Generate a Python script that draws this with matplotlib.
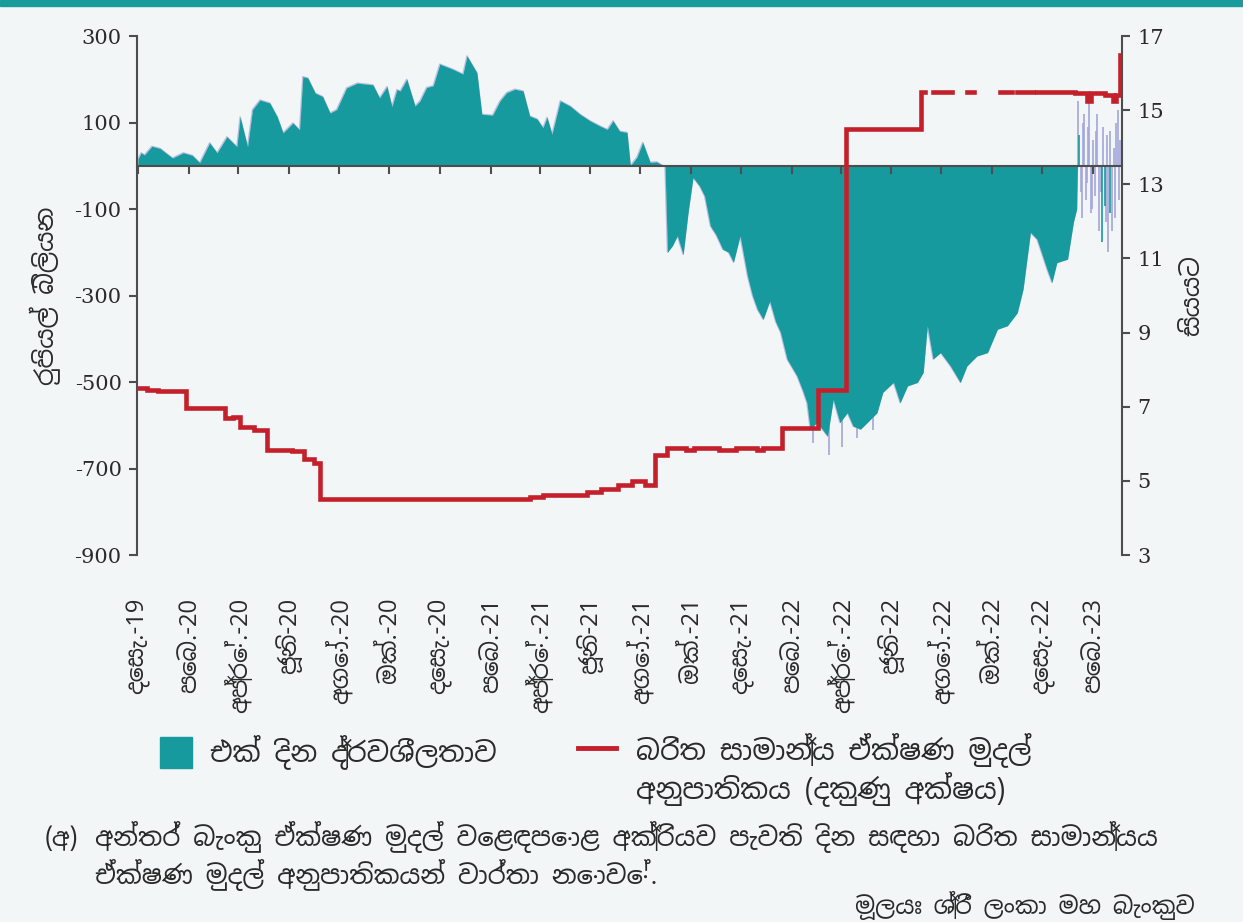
import numpy as np
import matplotlib
matplotlib.use('Agg')
import matplotlib.pyplot as plt
import matplotlib.dates as mdates
from matplotlib import font_manager
from matplotlib.ft2font import FT2Font
from matplotlib.patches import Rectangle
from matplotlib.lines import Line2D

# overnight liquidity, Rs. bn (left axis)
liq_dates = ['2019-12-01', '2019-12-05', '2019-12-09', '2019-12-18', '2019-12-28', '2020-01-05',
             '2020-01-12', '2020-01-25', '2020-02-05', '2020-02-14',
             '2020-02-26', '2020-03-06', '2020-03-18', '2020-03-30', '2020-04-03', '2020-04-12',
             '2020-04-18', '2020-04-27', '2020-05-09', '2020-05-18', '2020-05-25', '2020-06-06',
             '2020-06-14', '2020-06-18', '2020-06-24', '2020-07-03', '2020-07-12', '2020-07-21',
             '2020-07-29', '2020-08-10', '2020-08-23', '2020-09-11', '2020-09-19', '2020-09-28',
             '2020-10-04', '2020-10-10', '2020-10-14', '2020-10-22', '2020-11-01', '2020-11-07',
             '2020-11-15', '2020-11-23', '2020-12-01', '2020-12-17', '2020-12-29', '2021-01-03',
             '2021-01-15', '2021-01-21', '2021-02-03', '2021-02-12', '2021-02-20', '2021-03-02',
             '2021-03-12', '2021-03-20', '2021-03-29', '2021-04-05', '2021-04-10', '2021-04-16',
             '2021-04-26', '2021-05-08', '2021-05-20', '2021-06-01', '2021-06-13', '2021-06-22',
             '2021-06-29', '2021-07-07', '2021-07-16', '2021-07-20', '2021-07-28', '2021-08-04',
             '2021-08-13', '2021-08-21', '2021-08-29', '2021-08-31', '2021-09-03', '2021-09-09',
             '2021-09-15', '2021-09-22', '2021-09-28', '2021-10-04', '2021-10-12', '2021-10-18',
             '2021-10-25', '2021-11-01', '2021-11-09', '2021-11-16',
             '2021-11-22', '2021-11-30', '2021-12-09', '2021-12-15', '2021-12-21', '2021-12-28',
             '2022-01-05', '2022-01-12',
             '2022-01-18', '2022-01-26', '2022-02-07', '2022-02-14', '2022-02-19', '2022-02-23',
             '2022-03-03', '2022-03-10',
             '2022-03-16', '2022-03-23', '2022-03-31', '2022-04-09', '2022-04-16', '2022-04-25',
             '2022-05-03', '2022-05-15', '2022-05-22', '2022-06-04', '2022-06-12', '2022-06-21',
             '2022-07-03', '2022-07-10', '2022-07-15', '2022-07-22', '2022-07-31', '2022-08-12',
             '2022-08-24', '2022-09-01', '2022-09-13', '2022-09-26', '2022-10-08', '2022-10-20',
             '2022-11-01', '2022-11-08', '2022-11-17', '2022-11-25', '2022-12-07', '2022-12-13',
             '2022-12-19', '2023-01-01', '2023-01-08', '2023-01-12', '2023-01-13']
liq_vals = [15, 30, 25, 45, 40, 28,
            18, 30, 24, 7,
            53, 30, 67, 44, 113, 44,
            130, 152, 145, 113, 76, 99,
            83, 206, 203, 168, 160, 122,
            130, 180, 191, 187, 157, 183,
            137, 176, 173, 200, 138, 150,
            181, 185, 235, 223, 212, 254,
            215, 119, 117, 150, 169, 177,
            173, 115, 108, 88, 112, 73,
            150, 138, 119, 104, 92, 84,
            104, 80, 77, 0, 20, 54,
            8, 9, 0, 0, -200, -185,
            -162, -205, -108, -27, -47, -70,
            -139, -160, -193, -200,
            -223, -162, -255, -300, -332, -355,
            -313, -360,
            -385, -447, -486, -520, -548, -609,
            -594, -610,
            -625, -540, -594, -571, -602, -609,
            -594, -571, -524, -501, -548, -509,
            -501, -478, -370, -447, -432, -463,
            -501, -463, -440, -432, -378, -370,
            -340, -286, -154, -170, -239, -270,
            -224, -216, -131, -100, 0]

# thin day-to-day swings (deep one-day dips, and the January-March 2023 swings)
swing_dates = ['2022-02-27', '2022-03-18', '2022-04-03', '2022-04-21', '2022-05-10',
               '2023-01-14', '2023-01-15', '2023-01-17', '2023-01-18', '2023-01-20', '2023-01-21',
               '2023-01-23', '2023-01-25', '2023-01-26', '2023-01-27', '2023-01-29', '2023-01-31',
               '2023-02-01', '2023-02-03', '2023-02-04', '2023-02-06', '2023-02-08', '2023-02-10',
               '2023-02-12', '2023-02-13', '2023-02-15', '2023-02-16', '2023-02-18', '2023-02-19',
               '2023-02-21', '2023-02-22', '2023-02-24', '2023-02-26', '2023-02-27', '2023-03-01',
               '2023-03-03', '2023-03-04', '2023-03-06']
swing_vals = [-640, -668, -650, -630, -610,
              150, 70, -60, -120, 100, 120,
              -80, -40, 90, 150, -110, -100,
              60, -70, 80, 120, -150, -60,
              -177, 90, -93, -130, 70, -200,
              -110, 80, -150, 40, -120, 100,
              130, -80, 60]
swing_teal = [False, False, False, False, False,
              False, True, False, False, False, False,
              False, False, False, False, False, False,
              False, False, False, False, False, False,
              True, False, True, False, False, False,
              True, False, False, False, False, False,
              False, False, False]

# weighted average call money rate, % (right axis); nan = no trades
rate_dates = ['2019-12-01', '2019-12-12', '2019-12-25', '2020-01-29', '2020-03-16', '2020-03-25',
              '2020-04-03', '2020-04-20', '2020-05-06', '2020-06-05', '2020-06-20', '2020-07-01',
              '2020-07-09', '2021-03-20', '2021-04-05', '2021-05-28', '2021-06-15', '2021-07-05',
              '2021-07-22', '2021-08-07', '2021-08-19', '2021-09-02', '2021-09-25', '2021-10-05',
              '2021-11-05', '2021-11-25', '2021-12-20', '2021-12-28', '2022-01-20',
              '2022-03-04', '2022-04-08', '2022-07-07', '2022-07-12', '2022-07-22', '2022-08-14',
              '2022-09-01', '2022-09-09', '2022-10-11', '2022-10-26', '2022-11-01', '2022-11-20',
              '2022-11-25', '2023-01-10', '2023-01-25', '2023-01-30', '2023-02-15', '2023-02-25',
              '2023-03-01', '2023-03-06', '2023-03-08']
rate_vals = [7.50, 7.45, 7.42, 6.96, 6.70, 6.73,
             6.46, 6.37, 5.83, 5.80, 5.60, 5.48,
             4.50, 4.57, 4.62, 4.70, 4.78, 4.88,
             5.00, 4.90, 5.70, 5.88, 5.83, 5.88,
             5.83, 5.88, 5.84, 5.88, 6.42,
             7.45, 14.50, 15.50, np.nan, 15.50, np.nan,
             15.50, np.nan, 15.50, np.nan, 15.50, np.nan,
             15.48, 15.45, 15.25, 15.45, 15.40, 15.25,
             15.40, 16.50, 16.50]

tick_dates = ['2019-12-01', '2020-02-01', '2020-04-01', '2020-06-01', '2020-08-01', '2020-10-01',
              '2020-12-01', '2021-02-01', '2021-04-01', '2021-06-01', '2021-08-01', '2021-10-01',
              '2021-12-01', '2022-02-01', '2022-04-01', '2022-06-01', '2022-08-01', '2022-10-01',
              '2022-12-01', '2023-02-01']
tick_labels = ['දෙසැ.-19', 'පෙබ.-20', 'අප්‍රේ.-20', 'ජූනි-20', 'අගෝ.-20', 'ඔක්.-20',
               'දෙසැ.-20', 'පෙබ.-21', 'අප්‍රේ.-21', 'ජූනි-21', 'අගෝ.-21', 'ඔක්.-21',
               'දෙසැ.-21', 'පෙබ.-22', 'අප්‍රේ.-22', 'ජූනි-22', 'අගෝ.-22', 'ඔක්.-22',
               'දෙසැ.-22', 'පෙබ.-23']
left_ticks = [300, 100, -100, -300, -500, -700, -900]
right_ticks = [17, 15, 13, 11, 9, 7, 5, 3]


def find_sinhala_font():
    for f in font_manager.fontManager.ttflist:
        if 'sinhala' in f.name.lower():
            return f.name
    for f in font_manager.fontManager.ttflist:
        if 'CJK' in f.name:
            continue
        try:
            if 0x0D9A in FT2Font(f.fname).get_charmap():
                return f.name
        except Exception:
            pass
    return None


sin_font = find_sinhala_font()
fams = [sin_font, 'DejaVu Sans'] if sin_font else ['DejaVu Sans']
plt.rcParams['font.family'] = fams
num_font = 'DejaVu Serif'

teal = '#179a9d'
lav = '#a3a6d8'
red = '#c4202b'
axc = '#4d4d4d'
txt = '#2a2a2a'
bg = '#f3f6f6'

to_num = lambda ds: mdates.date2num(np.array(ds, dtype='datetime64[D]'))

fig = plt.figure(figsize=(12.43, 9.22), dpi=100, facecolor=bg)
fig.patches.append(Rectangle((0, 1 - 6 / 922), 1, 6 / 922, transform=fig.transFigure,
                             color='#1a9b9b', zorder=0))

ax = fig.add_axes([137 / 1243, 1 - 555 / 922, 985 / 1243, 519 / 922])
ax.set_facecolor(bg)

x_liq = to_num(liq_dates)
ax.plot(x_liq, liq_vals, color=lav, lw=1.0, alpha=0.7, zorder=1)
ax.fill_between(x_liq, liq_vals, 0, color=teal, lw=0, zorder=1.5)

x_sw = to_num(swing_dates)
for xv, yv, t in zip(x_sw, swing_vals, swing_teal):
    ax.vlines(xv, 0, yv, color=teal if t else lav, lw=1.4, alpha=0.85, zorder=1.2 if not t else 1.6)

ax.set_ylim(-900, 300)
ax.set_xlim(mdates.date2num(np.datetime64('2019-11-30')), mdates.date2num(np.datetime64('2023-03-08')))
ax.set_yticks(left_ticks)
ax.set_yticklabels([str(v) for v in left_ticks], fontfamily=num_font, fontsize=15, color=txt)

ax.spines['top'].set_visible(False)
ax.spines['right'].set_visible(False)
ax.spines['bottom'].set_position(('data', 0))
for s in ['left', 'bottom']:
    ax.spines[s].set_color(axc)
    ax.spines[s].set_linewidth(1.5)
ax.spines['bottom'].set_zorder(3)

ax.set_xticks(to_num(tick_dates))
ax.set_xticklabels(tick_labels, rotation=90, fontsize=17, color=txt)
ax.tick_params(axis='x', direction='out', length=6, width=1.5, color=axc, pad=305)
ax.tick_params(axis='y', direction='out', length=6, width=1.5, color=axc, pad=5)
ax.set_ylabel('රුපියල් බිලියන', fontsize=18, color=txt, labelpad=10)

ax2 = ax.twinx()
ax2.plot(to_num(rate_dates), rate_vals, color=red, lw=3.3, drawstyle='steps-post',
         solid_joinstyle='miter', zorder=3)
ax2.set_ylim(3, 17)
ax2.set_yticks(right_ticks)
ax2.set_yticklabels([str(v) for v in right_ticks], fontfamily=num_font, fontsize=15, color=txt)
ax2.tick_params(axis='y', direction='out', length=6, width=1.5, color=axc, pad=5)
for s in ['top', 'left', 'bottom']:
    ax2.spines[s].set_visible(False)
ax2.spines['right'].set_color(axc)
ax2.spines['right'].set_linewidth(1.5)
ax2.set_ylabel('සියයට', fontsize=18, color=txt, labelpad=12)

# legend
fig.patches.append(Rectangle((160 / 1243, 1 - 768 / 922), 32 / 1243, 31 / 922,
                             transform=fig.transFigure, color=teal))
fig.text(210 / 1243, 1 - 752 / 922, 'එක් දින ද්‍රවශීලතාව', fontsize=20, va='center', color=txt)
fig.add_artist(Line2D([578 / 1243, 616 / 1243], [1 - 748 / 922, 1 - 748 / 922],
                      transform=fig.transFigure, color=red, lw=3.5))
fig.text(636 / 1243, 1 - 769 / 922, 'බරිත සාමාන්‍ය ඒක්ෂණ මුදල්\nඅනුපාතිකය (දකුණු අක්ෂය)',
         fontsize=20, va='center', ha='left', linespacing=1.18, color=txt)

# notes
fig.text(45 / 1243, 1 - 838 / 922, '(අ)', fontsize=18, va='center', color=txt)
fig.text(95 / 1243, 1 - 856 / 922,
         'අන්තර් බැංකු ඒක්ෂණ මුදල් වෙළඳපොළ අක්‍රියව පැවති දින සඳහා බරිත සාමාන්‍යය\n'
         'ඒක්ෂණ මුදල් අනුපාතිකයන් වාර්තා නොවේ.',
         fontsize=18.5, va='center', ha='left', linespacing=1.22, color=txt)
fig.text(1195 / 1243, 1 - 905 / 922, 'මූලයඃ ශ්‍රී ලංකා මහ බැංකුව', fontsize=17,
         va='center', ha='right', color=txt)

fig.savefig('out.png', dpi=100, facecolor=bg)
